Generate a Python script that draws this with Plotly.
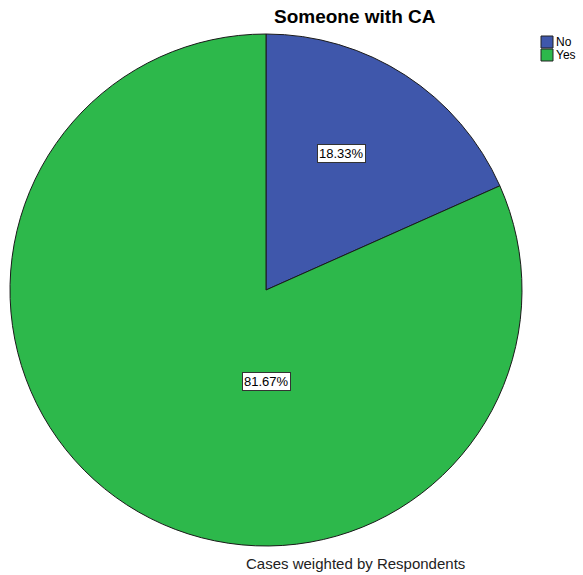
import plotly.graph_objects as go

labels = ["No", "Yes"]
values = [18.33, 81.67]
colors = ["#3f57ab", "#2db84b"]
title = "Someone with CA"
footnote = "Cases weighted by Respondents"

W, H = 583, 575
cx, cy, r = 266, 290, 256
FONT = "Arial, Liberation Sans, sans-serif"

fig = go.Figure()
fig.add_trace(go.Pie(
    labels=labels, values=values, sort=False, direction="clockwise", rotation=0,
    marker=dict(colors=colors, line=dict(color="#1a1a1a", width=1)),
    textinfo="none", hoverinfo="label+percent",
    domain=dict(x=[(cx - r) / W, (cx + r) / W], y=[1 - (cy + r) / H, 1 - (cy - r) / H]),
    showlegend=False,
))

# label positions (paper px) for each slice
label_pos = [(341, 154), (266, 381)]
for v, (px, py) in zip(values, label_pos):
    fig.add_annotation(
        x=px / W, y=1 - py / H, xref="paper", yref="paper",
        xanchor="center", yanchor="middle",
        text=f"{v:.2f}%", showarrow=False,
        font=dict(family=FONT, size=13, color="black"),
        bgcolor="white", bordercolor="#333333", borderwidth=1, borderpad=1,
    )

fig.add_annotation(
    x=355 / W, y=1 - 16 / H, xref="paper", yref="paper", text=f"<b>{title}</b>",
    xanchor="center", yanchor="middle",
    showarrow=False, font=dict(family=FONT, size=19, color="black"),
)
fig.add_annotation(
    x=355 / W, y=1 - 563 / H, xref="paper", yref="paper", text=footnote,
    xanchor="center", yanchor="middle",
    showarrow=False, font=dict(family=FONT, size=15, color="#222222"),
)

# legend drawn as swatches + text
leg_x, leg_y0, leg_dy, sw = 541, 36, 13, 12
for i, (lab, col) in enumerate(zip(labels, colors)):
    y0 = leg_y0 + i * leg_dy
    fig.add_shape(type="rect", xref="paper", yref="paper",
                  x0=leg_x / W, x1=(leg_x + sw) / W,
                  y0=1 - (y0 + sw) / H, y1=1 - y0 / H,
                  fillcolor=col, line=dict(color="#222222", width=1))
    fig.add_annotation(x=(leg_x + sw + 2) / W, y=1 - (y0 + sw / 2) / H,
                       xref="paper", yref="paper", xanchor="left", yanchor="middle",
                       text=lab, showarrow=False, borderpad=0,
                       font=dict(family=FONT, size=12, color="black"))

fig.update_layout(
    width=W, height=H, margin=dict(l=0, r=0, t=0, b=0),
    paper_bgcolor="white", plot_bgcolor="white",
    showlegend=False,
)
fig.write_html("out.html")
